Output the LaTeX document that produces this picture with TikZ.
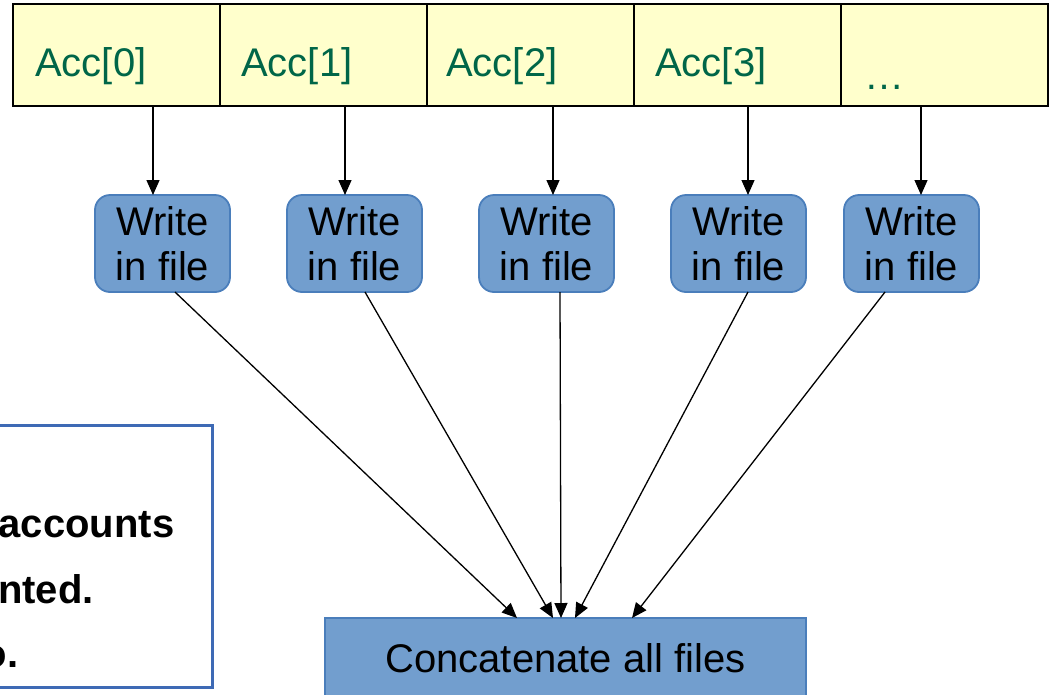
\documentclass[tikz,border=0pt]{standalone}
\usepackage{fontspec}
\setmainfont{Liberation Sans}
\usetikzlibrary{arrows.meta,calc}
\definecolor{cellfill}{RGB}{255,255,204}
\definecolor{acctext}{RGB}{0,102,72}
\definecolor{boxfill}{RGB}{114,158,206}
\definecolor{boxdraw}{RGB}{74,126,187}
\definecolor{notedraw}{RGB}{62,106,181}
\begin{document}
\begin{tikzpicture}[x=1pt,y=-1pt,
  cell/.style={draw=black,line width=2pt,fill=cellfill,minimum width=207pt,minimum height=102pt,inner sep=0pt,outer sep=0pt},
  acclabel/.style={anchor=base west,text=acctext,font=\fontsize{40}{48}\selectfont,inner sep=0pt},
  writebox/.style={draw=boxdraw,line width=1.8pt,fill=boxfill,rounded corners=15pt,minimum width=135pt,minimum height=97pt,align=center,font=\fontsize{40}{45}\selectfont,inner sep=0pt,outer sep=0pt},
  concatbox/.style={draw=boxdraw,line width=1.8pt,fill=boxfill,minimum width=481pt,minimum height=92pt,inner sep=0pt,outer sep=0pt,font=\fontsize{40}{48}\selectfont,text height=29pt,text depth=13pt},
  notebox/.style={draw=notedraw,line width=3pt,fill=white,minimum width=242pt,minimum height=262pt,inner sep=0pt},
  notetext/.style={anchor=base west,font=\fontsize{40}{48}\selectfont\bfseries,inner sep=0pt},
  arr/.style={line width=1.3pt,-{Triangle[length=15pt,width=13pt]}}]
\useasboundingbox (0,0) rectangle (1052,694);
\clip (0,0) rectangle (1052,694);

% top row
\node[cell] (acc0) at (116.5,55) {};
\node[cell] (acc1) at (323.5,55) {};
\node[cell] (acc2) at (530.5,55) {};
\node[cell] (acc3) at (737.5,55) {};
\node[cell] (acc4) at (944.5,55) {};
\node[acclabel] (l0) at (35,76) {Acc[0]};
\node[acclabel] (l1) at (241,76) {Acc[1]};
\node[acclabel] (l2) at (446,76) {Acc[2]};
\node[acclabel] (l3) at (655,76) {Acc[3]};
\node[acclabel] (l4) at (864,89) {…};

% write boxes
\node[writebox] (w0) at (162.5,243.5) {Write\\in file};
\node[writebox] (w1) at (354.5,243.5) {Write\\in file};
\node[writebox] (w2) at (546.5,243.5) {Write\\in file};
\node[writebox] (w3) at (738.5,243.5) {Write\\in file};
\node[writebox] (w4) at (911.5,243.5) {Write\\in file};

% concatenate
\node[concatbox] (cat) at (565.5,664) {Concatenate all files};

% note box (cut at left edge)
\node[notebox] (note) at (91,556) {};
\node[notetext] (n1) at (-1.5,537) {accounts};
\node[notetext] (n2) at (-2,603) {nted.};
\node[notetext] (n3) at (-17.5,667) {o.};

% arrow x positions
\coordinate (t0) at (153,0);
\coordinate (t1) at (345,0);
\coordinate (t2) at (553,0);
\coordinate (t3) at (748,0);
\coordinate (t4) at (921,0);
\coordinate (b0) at (175,0);
\coordinate (b1) at (365,0);
\coordinate (b2) at (560,0);
\coordinate (b3) at (748,0);
\coordinate (b4) at (885,0);
\coordinate (e0) at (517,0);
\coordinate (e1) at (553,0);
\coordinate (e2) at (561,0);
\coordinate (e3) at (575,0);
\coordinate (e4) at (632,0);

\draw[arr] (acc0.south -| t0) -- (w0.north -| t0);
\draw[arr] (acc1.south -| t1) -- (w1.north -| t1);
\draw[arr] (acc2.south -| t2) -- (w2.north -| t2);
\draw[arr] (acc3.south -| t3) -- (w3.north -| t3);
\draw[arr] (acc4.south -| t4) -- (w4.north -| t4);

\draw[arr] (w0.south -| b0) -- (cat.north -| e0);
\draw[arr] (w1.south -| b1) -- (cat.north -| e1);
\draw[arr] (w2.south -| b2) -- (cat.north -| e2);
\draw[arr] (w3.south -| b3) -- (cat.north -| e3);
\draw[arr] (w4.south -| b4) -- (cat.north -| e4);
\end{tikzpicture}
\end{document}
